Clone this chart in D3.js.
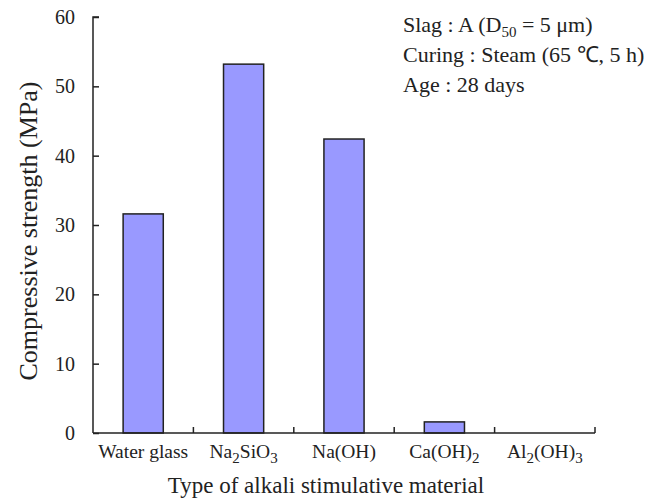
<!DOCTYPE html>
<html>
<head>
<meta charset="utf-8">
<script src="https://cdn.jsdelivr.net/npm/d3@7"></script>
<style>
  body { margin: 0; background: #fff; }
  text { font-family: "Liberation Serif", "Times New Roman", serif; fill: #222; }
</style>
</head>
<body>
<svg id="chart" width="666" height="501"></svg>
<script>
const categories = ["Water glass", "Na2SiO3", "Na(OH)", "Ca(OH)2", "Al2(OH)3"];
// label pieces: [text, isSubscript]
const labelParts = [
    [["Water glass", false]],
    [["Na", false], ["2", true], ["SiO", false], ["3", true]],
    [["Na(OH)", false]],
    [["Ca(OH)", false], ["2", true]],
    [["Al", false], ["2", true], ["(OH)", false], ["3", true]]
];
const strength = [31.6, 53.2, 42.4, 1.6, 0];
const yTicks = [0, 10, 20, 30, 40, 50, 60];

const svg = d3.select("#chart");
const margin = {left: 93, right: 71, top: 17, bottom: 68};
const W = 666, H = 501;

const x = d3.scaleBand()
    .domain(categories)
    .range([margin.left, W - margin.right])
    .paddingInner(0.6)
    .paddingOuter(0.3);
const xOuter = d3.scaleBand().domain(categories).range([margin.left, W - margin.right]);

const y = d3.scaleLinear().domain([0, 60]).range([H - margin.bottom, margin.top]);

// bars
svg.append("g").selectAll("rect")
    .data(strength)
    .join("rect")
    .attr("x", (d, i) => x(categories[i]))
    .attr("y", d => y(d))
    .attr("width", x.bandwidth())
    .attr("height", d => y(0) - y(d))
    .attr("fill", "#9999ff")
    .attr("stroke", "#222")
    .attr("stroke-width", 1.5)
    .style("display", d => d > 0 ? null : "none");

// y axis, ticks inside
const yAxis = svg.append("g")
    .attr("transform", `translate(${margin.left},0)`)
    .call(d3.axisRight(y).tickValues(yTicks).tickSize(6).tickFormat(d3.format("d")));
yAxis.select(".domain").attr("stroke", "#222").attr("stroke-width", 1.5)
    .attr("d", `M6,${y(60)}H0V${y(0)}`);
yAxis.selectAll(".tick line").attr("stroke", "#222").attr("stroke-width", 1.5);
yAxis.selectAll(".tick text")
    .attr("x", -18).attr("text-anchor", "end")
    .style("font-size", "20px").style("font-family", "Liberation Serif");

// x axis, boundary ticks pointing up
const xAxisG = svg.append("g").attr("transform", `translate(0,${y(0)})`);
xAxisG.append("line")
    .attr("x1", margin.left).attr("x2", W - margin.right)
    .attr("stroke", "#222").attr("stroke-width", 1.5);
xAxisG.selectAll("line.tk")
    .data(categories.slice(1).concat(["end"]))
    .join("line")
    .attr("class", "tk")
    .attr("x1", (d, i) => margin.left + (i + 1) * xOuter.step())
    .attr("x2", (d, i) => margin.left + (i + 1) * xOuter.step())
    .attr("y1", 0).attr("y2", -6)
    .attr("stroke", "#222").attr("stroke-width", 1.5);

// category labels with subscripts
const lab = svg.append("g").selectAll("text")
    .data(labelParts)
    .join("text")
    .attr("x", (d, i) => x(categories[i]) + x.bandwidth() / 2)
    .attr("y", y(0) + 25)
    .attr("text-anchor", "middle")
    .style("font-size", "19.5px");
lab.each(function(parts) {
    const t = d3.select(this);
    parts.forEach(([s, sub]) => {
        t.append("tspan")
            .attr("baseline-shift", sub ? "-30%" : null)
            .style("font-size", sub ? "15px" : null)
            .text(s);
    });
});

// axis titles
svg.append("text")
    .attr("x", 326)
    .attr("y", 493)
    .attr("text-anchor", "middle")
    .style("font-size", "23px")
    .text("Type of alkali stimulative material");

svg.append("text")
    .attr("transform", "translate(37,231) rotate(-90)")
    .attr("text-anchor", "middle")
    .style("font-size", "26px")
    .text("Compressive strength (MPa)");

// notes
const notes = svg.append("g").style("font-size", "22px");
const n1 = notes.append("text").attr("x", 403).attr("y", 32);
n1.append("tspan").text("Slag : A (D");
n1.append("tspan").attr("baseline-shift", "-30%").style("font-size", "15px").text("50");
n1.append("tspan").text(" = 5 μm)");
notes.append("text").attr("x", 403).attr("y", 62).text("Curing : Steam (65 ℃, 5 h)");
notes.append("text").attr("x", 403).attr("y", 92).text("Age : 28 days");
</script>
</body>
</html>
